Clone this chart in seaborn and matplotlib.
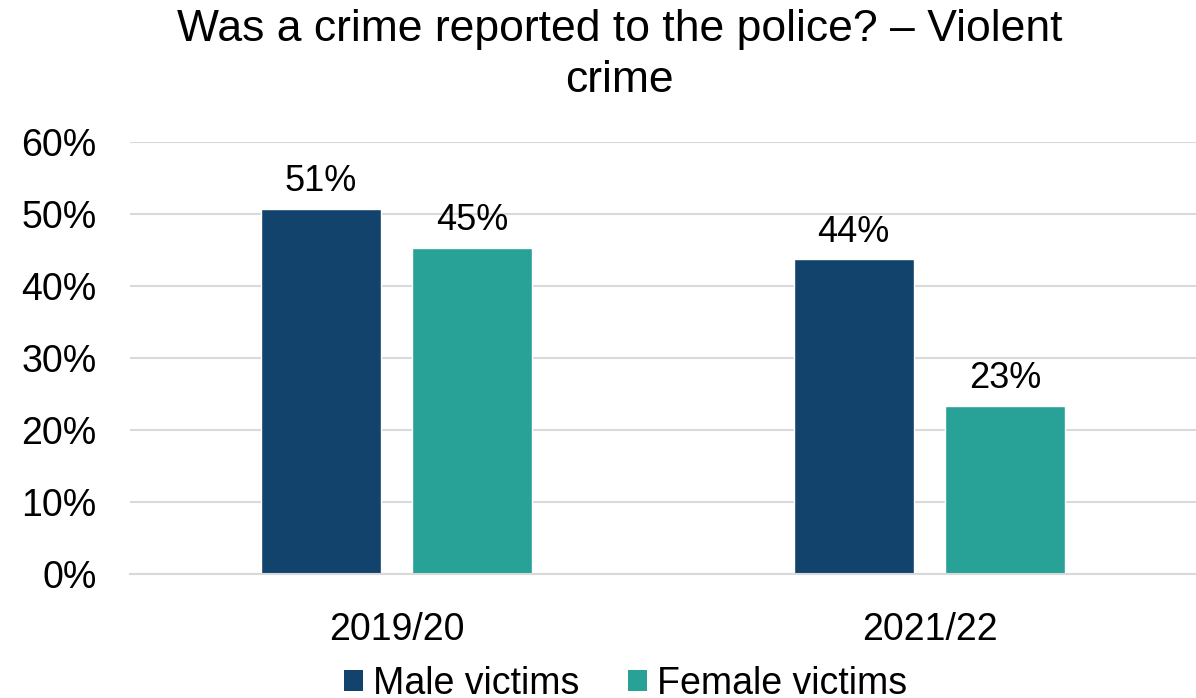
import matplotlib
matplotlib.use("Agg")
import matplotlib.pyplot as plt
import seaborn as sns
import pandas as pd
from matplotlib.patches import Patch

years = ["2019/20", "2021/22"]
series = ["Male victims", "Female victims"]
male = [0.507, 0.437]
female = [0.453, 0.234]
colors = ["#12436D", "#28A197"]
yticks = [0, 0.1, 0.2, 0.3, 0.4, 0.5, 0.6]

df = pd.DataFrame({
    "year": years * 2,
    "group": [series[0]] * 2 + [series[1]] * 2,
    "value": male + female,
})

sns.set_theme(style="white")
plt.rcParams["font.family"] = ["Liberation Sans", "DejaVu Sans"]

FS = 27

fig = plt.figure(figsize=(11.96, 6.98), dpi=100)
ax = fig.add_axes([130 / 1196, 1 - 574 / 698, 1 - 130 / 1196, (574 - 142) / 698])

sns.barplot(data=df, x="year", y="value", hue="group", palette=colors,
            width=0.57, gap=0.21, ax=ax, legend=False, saturation=1)

ax.set_ylim(0, 0.6)
ax.set_yticks(yticks)
ax.set_yticklabels([f"{int(round(t*100))}%" for t in yticks])
ax.yaxis.grid(True, color="#D9D9D9", linewidth=1.5)
ax.set_axisbelow(True)
for s in ["top", "right", "left"]:
    ax.spines[s].set_visible(False)
ax.spines["bottom"].set_color("#D9D9D9")
ax.spines["bottom"].set_linewidth(1.5)
ax.tick_params(axis="y", length=0, pad=24, labelsize=FS, labelcolor="black")
ax.tick_params(axis="x", length=0, pad=27, labelsize=FS, labelcolor="black")
ax.set_xlabel("")
ax.set_ylabel("")

for cont in ax.containers:
    ax.bar_label(cont, labels=[f"{round(b.get_height()*100)}%" for b in cont],
                 padding=7, fontsize=26, color="black")

fig.text(0.518, 1 - 55 / 698, "Was a crime reported to the police? – Violent\ncrime",
         ha="center", va="center", fontsize=32, linespacing=1.3, color="black")

handles = [Patch(facecolor=c, edgecolor="none") for c in colors]
fig.legend(handles, series, loc="center", bbox_to_anchor=(0.523, 1 - 684 / 698),
           ncol=2, frameon=False, fontsize=FS, handlelength=0.5, handleheight=0.5,
           handletextpad=0.27, columnspacing=1.3, borderaxespad=0, borderpad=0,
           labelcolor="black")

fig.savefig("out.png", dpi=100)
